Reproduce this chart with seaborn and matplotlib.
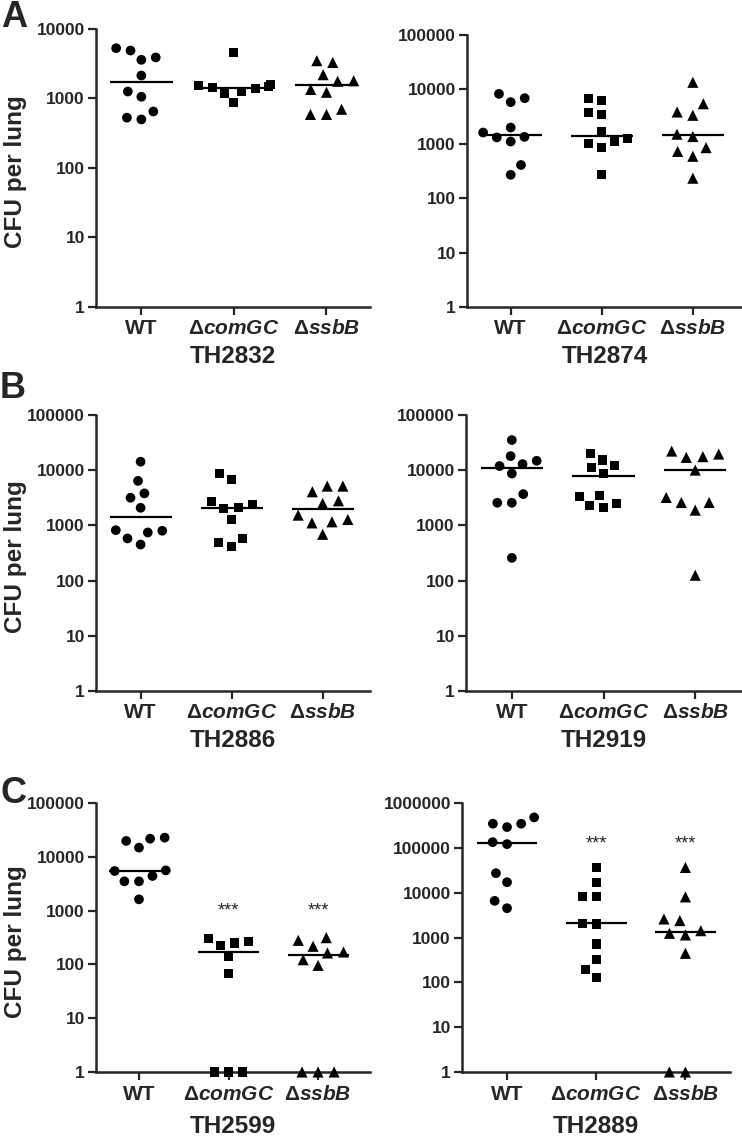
import numpy as np
import pandas as pd
import matplotlib
matplotlib.use("Agg")
import matplotlib.pyplot as plt
import seaborn as sns
from matplotlib.ticker import FixedLocator, NullLocator, FuncFormatter

# strains on the x axis
groups = ["WT", "ΔcomGC", "ΔssbB"]
group_ticklabels = ["WT", r"Δ$\mathit{comGC}$", r"Δ$\mathit{ssbB}$"]

# CFU per lung (no recovery plotted at 1)
wt_2832 = [5300, 4900, 3900, 3600, 2140, 1260, 1060, 650, 500, 530]
comgc_2832 = [4600, 1600, 1550, 1500, 1450, 1400, 1250, 1200, 870]
ssbb_2832 = [3500, 3300, 2200, 1800, 1770, 1350, 1230, 700, 590, 590]
lines_2832 = [1730, 1420, 1550]

wt_2874 = [8280, 5840, 6900, 1990, 1610, 1310, 1100, 1340, 408, 269]
comgc_2874 = [6700, 6260, 3720, 3470, 1660, 1250, 1010, 870, 1090, 269]
ssbb_2874 = [13500, 5450, 3840, 3340, 1360, 1500, 725, 850, 590, 233]
lines_2874 = [1480, 1420, 1460]

wt_2886 = [14250, 6400, 3800, 3170, 2085, 820, 800, 745, 580, 450]
comgc_2886 = [8750, 6800, 2750, 2400, 2030, 2085, 1300, 580, 483, 420]
ssbb_2886 = [5150, 4070, 5150, 2790, 2500, 1535, 1160, 1280, 1110, 690]
lines_2886 = [1430, 2030, 1945]

wt_2919 = [35200, 18000, 14800, 12900, 11900, 8700, 3690, 2570, 2570, 258]
comgc_2919 = [20200, 15300, 11100, 12000, 8700, 3540, 3300, 2500, 2330, 2085]
ssbb_2919 = [22200, 17600, 19600, 17060, 10050, 3210, 2600, 2600, 1890, 125]
lines_2919 = [10940, 7830, 9900]

wt_2599 = [21700, 22700, 19700, 14800, 5450, 5600, 4400, 3500, 3500, 1620]
comgc_2599 = [300, 270, 250, 226, 141, 68, 1, 1, 1]
ssbb_2599 = [314, 280, 217, 170, 163, 122, 96, 1, 1, 1]
lines_2599 = [5370, 167, 150]

wt_2889 = [478000, 345000, 290000, 345000, 121000, 134000, 27200, 17100, 6560, 4500]
comgc_2889 = [36500, 17100, 8200, 8200, 2070, 2000, 716, 331, 195, 129]
ssbb_2889 = [36500, 8050, 2590, 2380, 1420, 1140, 1240, 444, 1, 1]
lines_2889 = [127600, 2070, 1350]

strains = ["TH2832", "TH2874", "TH2886", "TH2919", "TH2599", "TH2889"]
y_tops = [1e4, 1e5, 1e5, 1e5, 1e5, 1e6]
stars_2599 = 1000
stars_2889 = 125000

sns.set_style("ticks")
plt.rcParams["font.family"] = ["Liberation Sans", "DejaVu Sans"]
plt.rcParams["font.weight"] = "bold"
plt.rcParams["mathtext.fontset"] = "custom"
plt.rcParams["mathtext.rm"] = "Liberation Sans:bold"
plt.rcParams["mathtext.it"] = "Liberation Sans:italic:bold"
plt.rcParams["mathtext.bf"] = "Liberation Sans:bold"

fig = plt.figure(figsize=(7.42, 11.38), dpi=100)
W, H = 742, 1138

# axes boxes in pixels: left, top, right, bottom (bottom = the "1" line)
boxes = [(96, 29, 370, 307), (467, 35, 742, 307),
         (96, 415, 370, 691), (466, 415, 742, 691),
         (96, 803, 370, 1072), (462, 803, 730, 1072)]
xlims = [(-0.49, 2.47), (-0.48, 2.54), (-0.49, 2.52),
         (-0.5, 2.51), (-0.48, 2.58), (-0.505, 2.5)]
xlabel_pads = [5, 5, 5, 5, 8.5, 8.5]
extra = 8  # room below the x axis line so markers at 1 stay whole

data = [(wt_2832, comgc_2832, ssbb_2832, lines_2832),
        (wt_2874, comgc_2874, ssbb_2874, lines_2874),
        (wt_2886, comgc_2886, ssbb_2886, lines_2886),
        (wt_2919, comgc_2919, ssbb_2919, lines_2919),
        (wt_2599, comgc_2599, ssbb_2599, lines_2599),
        (wt_2889, comgc_2889, ssbb_2889, lines_2889)]

markers = ["o", "s", "^"]
msizes = [7, 6.5, 8]

axes = []
for i, (strain, top, box, xl, d) in enumerate(zip(strains, y_tops, boxes, xlims, data)):
    l, t, r, b = box
    ax = fig.add_axes([l / W, 1 - (b + extra) / H, (r - l) / W, (b + extra - t) / H])
    vals = d[:3]
    df = pd.DataFrame({"group": np.repeat(groups, [len(v) for v in vals]),
                       "cfu": np.concatenate(vals)})
    ax.set_yscale("log")
    ndec = np.log10(top)
    ybottom = 10 ** (-extra * ndec / (b - t))
    ax.set_ylim(ybottom, top)
    for g, m, s in zip(groups, markers, msizes):
        sns.swarmplot(data=df[df["group"] == g], x="group", y="cfu", order=groups,
                      marker=m, size=s, color="black", edgecolor="none",
                      linewidth=3, ax=ax, zorder=3)
    # centre lines
    pos = np.arange(3)
    ax.hlines(d[3], pos - 0.34, pos + 0.34, color="black", lw=1.6, zorder=2)

    sns.despine(ax=ax)
    ax.spines["bottom"].set_position(("data", 1))
    ax.spines["left"].set_bounds(1, top)
    ax.set_xlim(*xl)
    ax.set_ylim(ybottom, top)
    decades = 10.0 ** np.arange(0, int(ndec) + 1)
    ax.yaxis.set_major_locator(FixedLocator(decades))
    ax.yaxis.set_minor_locator(NullLocator())
    ax.yaxis.set_major_formatter(FuncFormatter(lambda v, p: f"{int(round(v))}"))
    ax.set_xticks(pos)
    ax.set_xticklabels(group_ticklabels)
    ax.tick_params(axis="y", labelsize=12.5, length=6, width=1.6, pad=2)
    ax.tick_params(axis="x", labelsize=15, length=6, width=1.6, pad=3)
    for sp in ["left", "bottom"]:
        ax.spines[sp].set_linewidth(1.8)
    ax.set_xlabel(strain, fontsize=17.5, fontweight="bold", labelpad=xlabel_pads[i])
    if i % 2 == 0:
        ax.set_ylabel("CFU per lung", fontsize=17.5, fontweight="bold")
        ax.yaxis.set_label_coords(-0.25, 0.5)
    else:
        ax.set_ylabel("")
    axes.append(ax)

# significance marks
for x in [1, 2]:
    axes[4].text(x, stars_2599, "***", ha="center", va="center",
                 fontsize=13, fontweight="normal")
    axes[5].text(x, stars_2889, "***", ha="center", va="center",
                 fontsize=13, fontweight="normal")

# panel letters
fig.text(1 / W, 1 - 27 / H, "A", fontsize=26, fontweight="bold", va="baseline")
fig.text(0 / W, 1 - 398 / H, "B", fontsize=26, fontweight="bold", va="baseline")
fig.text(1 / W, 1 - 803 / H, "C", fontsize=26, fontweight="bold", va="baseline")

fig.savefig("out.png", dpi=100)
